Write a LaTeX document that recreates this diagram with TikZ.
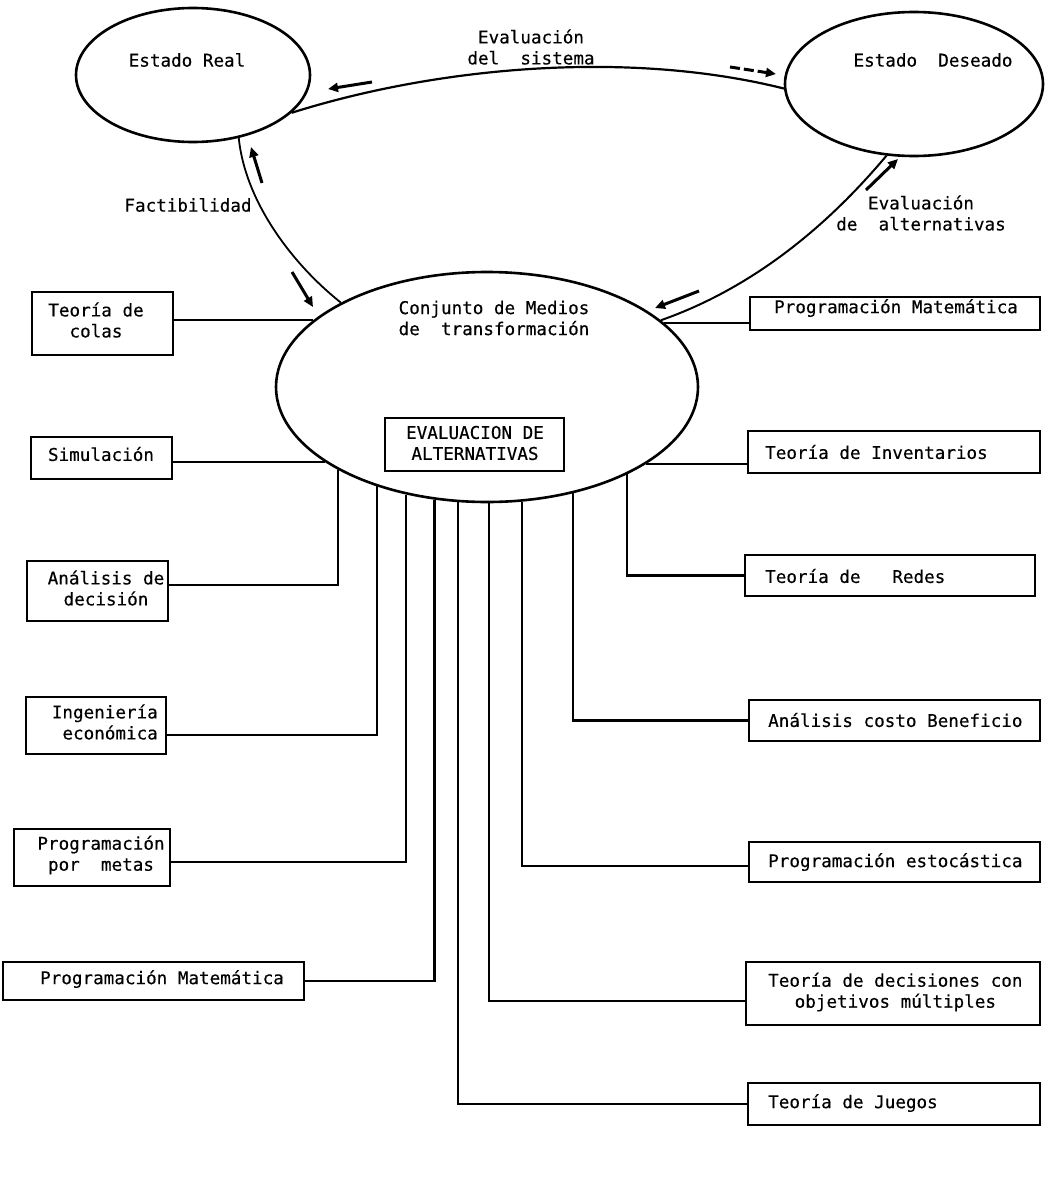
\documentclass[tikz,border=0pt]{standalone}
\usepackage{fontspec}
\setmainfont{DejaVu Sans Mono}[UprightFeatures={FakeBold=0.35}]
\usetikzlibrary{shapes.geometric,arrows.meta}
\begin{document}
\begin{tikzpicture}[x=1pt,y=-1pt,
  font=\fontsize{17.6}{21}\selectfont,
  state/.style={ellipse, draw, line width=2.6pt, inner sep=0pt},
  box/.style={rectangle, draw, line width=1.5pt, inner sep=0pt},
  txt/.style={inner sep=0pt, align=center},
  link/.style={line width=2.2pt},
  flow/.style={line width=3pt, -{Triangle[length=10pt,width=9pt]}}
]
\useasboundingbox (0,0) rectangle (1053,1178);

% --- states ---
\node[state, minimum width=234pt, minimum height=134pt] (real) at (193,75) {};
\node[state, minimum width=258pt, minimum height=144pt] (deseado) at (914,84) {};
\node[state, minimum width=422pt, minimum height=230pt] (medios) at (487,387) {};

\node[txt] (realtxt) at (187,60) {Estado Real};
\node[txt] (deseadotxt) at (933,60) {Estado~~Deseado};
\node[txt] (mediostxt) at (494,318) {Conjunto de Medios\\de~~transformación};

% --- inner box ---
\node[box, minimum width=179pt, minimum height=53pt] (evalbox) at (474.5,444.5) {};
\node[txt] (evaltxt) at (475,443) {EVALUACION DE\\ALTERNATIVAS};

% --- labels of the loop ---
\node[txt] (lsistema) at (531,47) {Evaluación\\del~~sistema};
\node[txt] (lfact) at (188,205) {Factibilidad};
\node[txt] (lalter) at (921,213) {Evaluación\\de~~alternativas};

% --- loop connectors ---
\draw[link] (real.-21) .. controls (440,66) and (630,50) .. (deseado.182.7);
\draw[line width=1.8pt] (real.-54.6) .. controls (245,200) and (290,262) .. (medios.150.5);
\draw[line width=2pt] (deseado.249.2) .. controls (845,205) and (770,282) .. (medios.21);

% --- flow arrows ---
\coordinate (a1s) at (372,82);  \coordinate (a1e) at (328,89);
\coordinate (a2s) at (730,67);  \coordinate (a2e) at (776,74);
\coordinate (a3s) at (262,183); \coordinate (a3e) at (251,147);
\coordinate (a4s) at (292,272); \coordinate (a4e) at (313,307);
\coordinate (a5s) at (866,190); \coordinate (a5e) at (898,159);
\coordinate (a6s) at (699,291); \coordinate (a6e) at (655,308);
\draw[flow] (a1s) -- (a1e);
\draw[flow, dash pattern=on 10pt off 4pt] (a2s) -- (a2e);
\draw[flow] (a3s) -- (a3e);
\draw[flow] (a4s) -- (a4e);
\draw[flow] (a5s) -- (a5e);
\draw[flow] (a6s) -- (a6e);

% --- left techniques ---
\node[box, minimum width=141pt, minimum height=63pt] (colas) at (102.5,323.5) {};
\node[txt] (colastxt) at (96,320) {Teoría de\\colas};
\node[box, minimum width=141pt, minimum height=42pt] (simul) at (101.5,458) {};
\node[txt] (simultxt) at (101,454) {Simulación};
\node[box, minimum width=141pt, minimum height=60pt] (decision) at (97.5,591) {};
\node[txt] (decisiontxt) at (106,588) {Análisis de\\decisión};
\node[box, minimum width=140pt, minimum height=57pt] (ingen) at (96,725.5) {};
\node[txt, align=right, anchor=east] (ingentxt) at (158,722) {Ingeniería\\económica};
\node[box, minimum width=156pt, minimum height=57pt] (metas) at (92,857.5) {};
\node[txt] (metastxt) at (101,855) {Programación\\por~~metas};
\node[box, minimum width=301pt, minimum height=38pt] (progL) at (153.5,981) {};
\node[txt] (progLtxt) at (162,979) {Programación Matemática};

% --- right techniques ---
\node[box, minimum width=290pt, minimum height=33pt] (progR) at (895,313.5) {};
\node[txt] (progRtxt) at (896,308) {Programación Matemática};
\node[box, minimum width=292pt, minimum height=42pt] (invent) at (894,452) {};
\node[txt, anchor=west] (inventtxt) at (765,452) {Teoría de Inventarios};
\node[box, minimum width=290pt, minimum height=41pt] (redes) at (890,575.5) {};
\node[txt, anchor=west] (redestxt) at (765,576) {Teoría de~~~Redes};
\node[box, minimum width=291pt, minimum height=41pt] (costo) at (894.5,720.5) {};
\node[txt, anchor=west] (costotxt) at (768,720) {Análisis costo Beneficio};
\node[box, minimum width=291pt, minimum height=40pt] (estoc) at (894.5,862) {};
\node[txt, anchor=west] (estoctxt) at (768,862) {Programación estocástica};
\node[box, minimum width=294pt, minimum height=63pt] (decis) at (893,993.5) {};
\node[txt, anchor=west] (decistxt) at (768,992) {Teoría de decisiones con\\objetivos múltiples};
\node[box, minimum width=292pt, minimum height=42pt] (juegos) at (894,1104) {};
\node[txt, anchor=west] (juegostxt) at (768,1103) {Teoría de Juegos};

% --- links from the set of means to each technique ---
\draw[link] (medios.159.5) -- (medios.159.5 -| colas.east);
\draw[link] (medios.205.1) -- (medios.205.1 -| simul.east);
\draw[link] (medios.209.6) |- ([yshift=6pt]decision.east);
\draw[link] (medios.222.1) |- ([yshift=-9.5pt]ingen.east);
\draw[link] (medios.233.5) |- ([yshift=-4.5pt]metas.east);
\draw[link] (medios.245.4) |- (progL.east);
\draw[link] (medios.256.7) |- (juegos.west);
\draw[link] (medios.271) |- ([yshift=-7.5pt]decis.west);
\draw[link] (medios.287.6) |- ([yshift=-4pt]estoc.west);
\draw[link] (medios.309.3) |- (costo.west);
\draw[link] (medios.328.7) |- (redes.west);
\draw[link] (medios.334.9) -- (medios.334.9 -| invent.west);
\draw[link] (medios.20.1) -- (medios.20.1 -| progR.west);
\end{tikzpicture}
\end{document}
